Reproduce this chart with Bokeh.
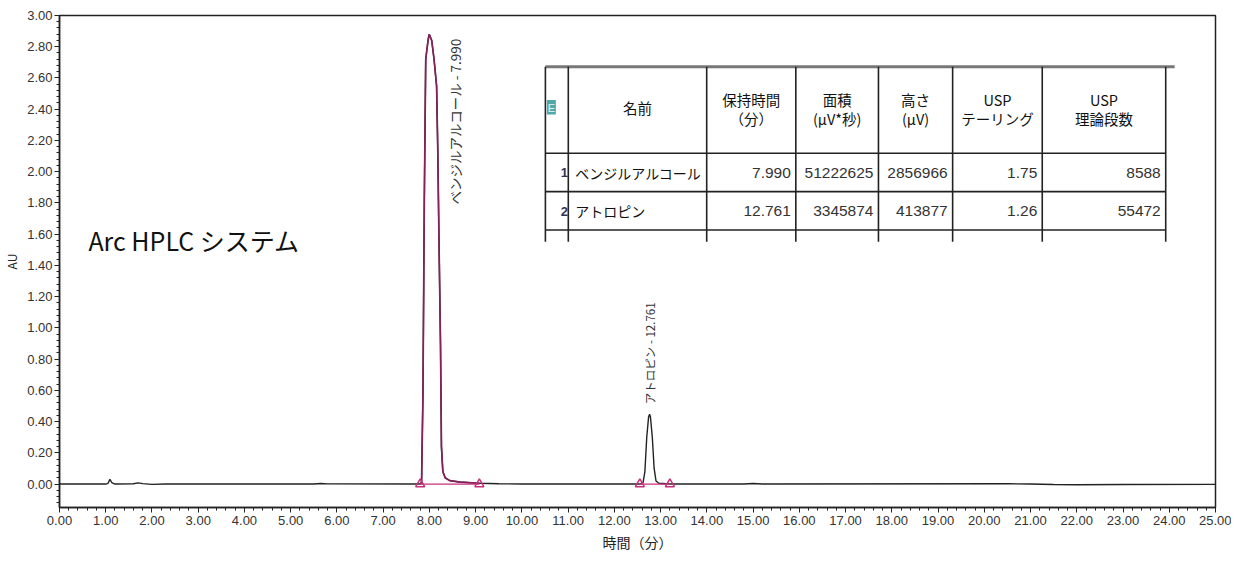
import math
from bokeh.plotting import figure
from bokeh.models import SingleIntervalTicker, NumeralTickFormatter, Range1d
from bokeh.core.properties import value
from bokeh.embed import file_html
from bokeh.resources import INLINE

# ---------------- data ----------------
time_min = [0.0, 1.0, 1.05, 1.09, 1.13, 1.2, 1.6, 1.7, 1.8, 2.0, 2.3, 5.5, 5.65, 5.8,
            7.75, 7.80, 7.83, 7.86, 7.89, 7.92, 7.97, 7.995, 8.05, 8.10, 8.155, 8.18,
            8.21, 8.24, 8.26, 8.29, 8.34, 8.44, 8.66, 9.02, 9.08, 9.5, 10.0,
            12.55, 12.62, 12.66, 12.70, 12.74, 12.761, 12.78, 12.82, 12.86, 12.90,
            12.96, 13.2, 14.8, 15.0, 15.2, 20.5, 21.0, 21.5, 22.0, 23.0, 25.0]
signal_au = [0.0, 0.0, 0.005, 0.03, 0.01, 0.0, 0.002, 0.008, 0.003, -0.002, 0.0, 0.0, 0.004, 0.001,
             0.0, 0.0, 0.01, 0.57, 1.83, 2.72, 2.84, 2.88, 2.84, 2.72, 2.55, 2.15,
             1.50, 0.89, 0.24, 0.08, 0.04, 0.022, 0.013, 0.006, 0.005, 0.002, 0.0,
             0.0, 0.01, 0.08, 0.30, 0.43, 0.447, 0.43, 0.30, 0.10, 0.02,
             0.005, 0.0, 0.0, 0.004, 0.0, 0.002, 0.0, -0.003, -0.004, -0.003, -0.002]

peak_ids = ["1", "2"]
peak_names = ["ベンジルアルコール", "アトロピン"]
retention_times = [7.990, 12.761]
areas = [51222625, 3345874]
heights = [2856966, 413877]
usp_tailing = [1.75, 1.26]
usp_plates = [8588, 55472]
integ_start = [7.80, 12.55]
integ_end = [9.08, 13.20]

header_line1 = ["名前", "保持時間", "面積", "高さ", "USP", "USP"]
header_line2 = ["", "（分）", "(µV*秒)", "(µV)", "テーリング", "理論段数"]

title_text = "Arc HPLC システム"
x_title = "時間（分）"
y_title = "AU"

# ---------------- figure ----------------
X0, X1, Y0, Y1 = 0.0, 25.0, -0.15, 3.00
# frame as seen in the reference picture (px), used to place annotations
FL, FR, FT, FB = 58.0, 1219.0, 15.0, 515.0


def px2x(px):
    return X0 + (px - FL) / (FR - FL) * (X1 - X0)


def py2y(py):
    return Y1 - (py - FT) / (FB - FT) * (Y1 - Y0)


p = figure(width=1231, height=554, x_range=Range1d(X0, X1), y_range=Range1d(Y0, Y1),
           output_backend="svg", toolbar_location=None,
           min_border_left=58, min_border_right=16, min_border_top=15, min_border_bottom=43)
p.outline_line_color = "#222222"
p.outline_line_width = 1.5
p.xgrid.visible = False
p.ygrid.visible = False
p.background_fill_color = "white"
p.border_fill_color = "white"

p.xaxis.ticker = SingleIntervalTicker(interval=1, num_minor_ticks=5)
p.yaxis.ticker = SingleIntervalTicker(interval=0.2, num_minor_ticks=5)
p.xaxis.formatter = NumeralTickFormatter(format="0.00")
p.yaxis.formatter = NumeralTickFormatter(format="0.00")
for ax in (p.xaxis, p.yaxis):
    ax.axis_line_color = "#222222"
    ax.axis_line_width = 1.5
    ax.major_tick_line_color = "#222222"
    ax.minor_tick_line_color = "#222222"
    ax.major_tick_in = 0
    ax.major_tick_out = 5
    ax.minor_tick_in = 0
    ax.minor_tick_out = 3
    ax.major_label_text_font = "Liberation Sans"
    ax.major_label_text_font_size = "13px"
    ax.major_label_text_color = "#333333"
    ax.axis_label_text_font = "Noto Sans CJK JP"
    ax.axis_label_text_font_style = "normal"
    ax.axis_label_text_color = "#222222"
p.xaxis.major_label_standoff = 3
p.yaxis.major_label_standoff = 2
p.xaxis.axis_label = x_title
p.yaxis.axis_label = y_title
p.xaxis.axis_label_text_font_size = "14px"
p.yaxis.axis_label_text_font_size = "12px"
p.xaxis.axis_label_standoff = 4
p.yaxis.axis_label_standoff = 4

# chromatogram
p.line(time_min, signal_au, line_color="#222222", line_width=1.4)

# highlighted first peak (integrated region)
pk_t = [t for t in time_min if integ_start[0] <= t <= integ_end[0]]
pk_s = [s for t, s in zip(time_min, signal_au) if integ_start[0] <= t <= integ_end[0]]
p.line(pk_t, pk_s, line_color="#84205A", line_width=1.7)

# integration baselines and markers
p.segment(x0=integ_start, y0=[0, 0], x1=integ_end, y1=[0, 0], line_color="#C8307E", line_width=1.3)
p.scatter(integ_start + integ_end, [0] * 4, marker="triangle", size=9,
          fill_color=None, line_color="#C8307E", line_width=1.5)

# peak labels
lab_txt = [f"{n} - {rt:.3f}" for n, rt in zip(peak_names, retention_times)]
p.text(x=[px2x(455)], y=[py2y(207)], text=[lab_txt[0]], angle=math.pi / 2, text_align="left",
       text_baseline="middle", text_font=value("Noto Sans CJK JP"),
       text_font_size="13.5px", text_color="#333333")
p.text(x=[px2x(651)], y=[py2y(410)], text=[lab_txt[1]], angle=math.pi / 2, text_align="left",
       text_baseline="middle", text_font=value("Noto Sans CJK JP"),
       text_font_size="11.5px", text_color="#333333")

# title text
p.text(x=[px2x(87)], y=[py2y(243)], text=[title_text], text_align="left",
       text_baseline="middle", text_font=value("Noto Sans CJK JP"),
       text_font_size="25px", text_color="#111111")

# ---------------- results table ----------------
col_px = [546, 569, 708, 797.5, 880.5, 955, 1045, 1169]
row_px = [67, 155, 194, 233]
vbottom_px = 245
cx = [px2x(c) for c in col_px]
ry = [py2y(r) for r in row_px]

p.quad(left=[cx[0]], right=[cx[-1]], top=[ry[0]], bottom=[py2y(vbottom_px)],
       fill_color="white", line_color=None)
p.segment(x0=[px2x(546)], y0=[ry[0]], x1=[px2x(1178)], y1=[ry[0]],
          line_color="#777777", line_width=3)
p.segment(x0=[cx[0]] * 3, y0=ry[1:], x1=[cx[-1]] * 3, y1=ry[1:],
          line_color="#222222", line_width=1.6)
p.segment(x0=cx, y0=[ry[0]] * len(cx), x1=cx, y1=[py2y(vbottom_px)] * len(cx),
          line_color="#222222", line_width=1.6)

# "E" icon
p.quad(left=[px2x(547.5)], right=[px2x(556.5)], top=[py2y(101)], bottom=[py2y(115.5)],
       fill_color="#4FA9A6", line_color=None)
p.text(x=[px2x(552)], y=[py2y(108.5)], text=["E"], text_align="center",
       text_baseline="middle", text_font=value("Liberation Sans"),
       text_font_size="11px", text_color="#eaf5f5")

# header
hc = [px2x((col_px[i] + col_px[i + 1]) / 2) for i in range(1, 7)]
one_line = [i for i, s in enumerate(header_line2) if s == ""]
two_line = [i for i, s in enumerate(header_line2) if s != ""]
hdr_kw = dict(text_align="center", text_baseline="middle",
              text_font=value("Noto Sans CJK JP"), text_font_size="14.5px", text_color="#111111")
p.text(x=[hc[i] for i in one_line], y=[py2y(109)] * len(one_line),
       text=[header_line1[i] for i in one_line], **hdr_kw)
p.text(x=[hc[i] for i in two_line], y=[py2y(100)] * len(two_line),
       text=[header_line1[i] for i in two_line], **hdr_kw)
p.text(x=[hc[i] for i in two_line], y=[py2y(120)] * len(two_line),
       text=[header_line2[i] for i in two_line], **hdr_kw)

# body rows
row_c = [py2y(175), py2y(214)]
p.text(x=[px2x(565)] * 2, y=row_c, text=peak_ids, text_align="center", text_baseline="middle",
       text_font=value("Liberation Sans"), text_font_size="13px", text_font_style="bold",
       text_color="#333355")
p.text(x=[px2x(576)] * 2, y=row_c, text=peak_names, text_align="left", text_baseline="middle",
       text_font=value("Noto Sans CJK JP"), text_font_size="14px", text_color="#111111")
num_cols = [
    [f"{v:.3f}" for v in retention_times],
    [str(v) for v in areas],
    [str(v) for v in heights],
    [f"{v:.2f}" for v in usp_tailing],
    [str(v) for v in usp_plates],
]
for k, vals in enumerate(num_cols):
    right = px2x(col_px[k + 3] - 5)
    p.text(x=[right] * 2, y=row_c, text=vals, text_align="right", text_baseline="middle",
           text_font=value("Liberation Sans"), text_font_size="15.5px",
           text_color="#333333")

open("out.html", "w").write(file_html(p, INLINE))
